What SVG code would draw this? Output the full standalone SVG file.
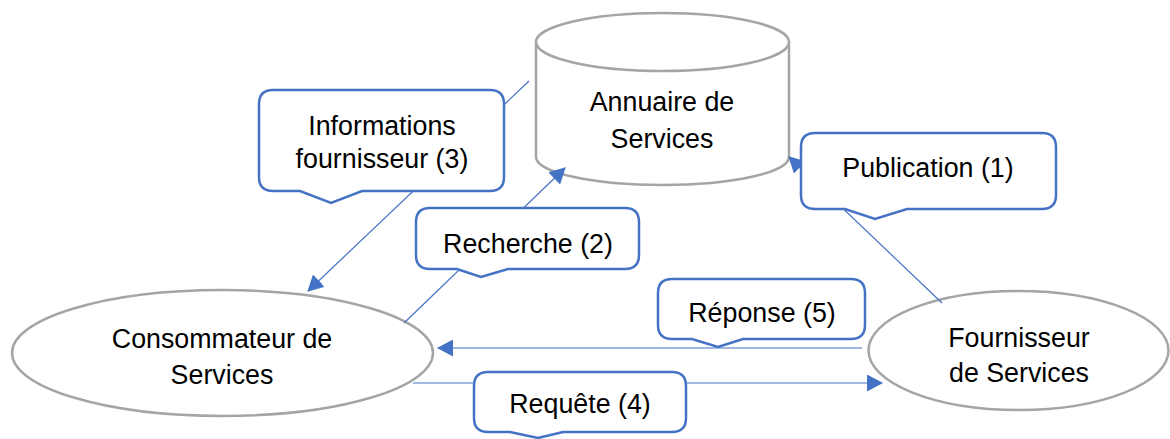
<svg xmlns="http://www.w3.org/2000/svg" width="1170" height="439" viewBox="0 0 1170 439">
<style>
.shape{fill:#fff;stroke:#a5a5a5;stroke-width:2.5}
.callout{fill:#fff;stroke:#4472c4;stroke-width:2.5;stroke-linejoin:miter}
.conn{stroke:#4472c4;stroke-width:1.2;fill:none}
text{font-family:"Liberation Sans",Arial,sans-serif;font-size:26.8px;fill:#000;text-anchor:middle}
</style>
<defs>
<marker id="arr" viewBox="0 0 16 17" refX="15" refY="8.5" markerWidth="16" markerHeight="17" markerUnits="userSpaceOnUse" orient="auto">
<path d="M0,0 L16,8.5 L0,17 Z" fill="#4472c4"/>
</marker>
</defs>
<rect width="1170" height="439" fill="#fff"/>
<g id="annuaire">
<path class="shape" d="M536,42 V157 A126.5,28 0 0 0 789,157 V42"/>
<ellipse class="shape" cx="662.5" cy="42" rx="126.5" ry="29"/>
<text x="662" y="111">Annuaire de</text>
<text x="662" y="148">Services</text>
</g>
<g id="consommateur">
<ellipse class="shape" cx="222.5" cy="353" rx="210.5" ry="63"/>
<text x="222" y="348">Consommateur de</text>
<text x="222" y="384">Services</text>
</g>
<g id="fournisseur">
<ellipse class="shape" cx="1018.5" cy="350.5" rx="150" ry="59.5"/>
<text x="1019" y="347">Fournisseur</text>
<text x="1019" y="382">de Services</text>
</g>
<g id="connectors">
<line class="conn" x1="529" y1="81" x2="308" y2="291" marker-end="url(#arr)"/>
<line class="conn" x1="404" y1="323" x2="565" y2="168" marker-end="url(#arr)"/>
<line class="conn" x1="942" y1="303" x2="789" y2="157" marker-end="url(#arr)"/>
<line class="conn" x1="862" y1="348" x2="438" y2="348" marker-end="url(#arr)"/>
<line class="conn" x1="413" y1="383" x2="882" y2="383" marker-end="url(#arr)"/>
</g>
<g id="label-informations">
<path class="callout" d="M273,90 H490 Q504,90 504,104 V177 Q504,191 490,191 H362 L331,203 L300,191 H273 Q259,191 259,177 V104 Q259,90 273,90 Z"/>
<text x="382" y="135">Informations</text>
<text x="382" y="168">fournisseur (3)</text>
</g>
<g id="label-recherche">
<path class="callout" d="M430,208 H625 Q639,208 639,222 V255 Q639,269 625,269 H508 L481,277 L457,269 H430 Q416,269 416,255 V222 Q416,208 430,208 Z"/>
<text x="528" y="253">Recherche (2)</text>
</g>
<g id="label-publication">
<path class="callout" d="M815,133 H1042 Q1056,133 1056,147 V195 Q1056,209 1042,209 H907 L875,219 L845,209 H815 Q801,209 801,195 V147 Q801,133 815,133 Z"/>
<text x="928" y="177">Publication (1)</text>
</g>
<g id="label-reponse">
<path class="callout" d="M672,279 H851 Q865,279 865,293 V325 Q865,339 851,339 H743 L718,347 L692,339 H672 Q658,339 658,325 V293 Q658,279 672,279 Z"/>
<text x="762" y="322">Réponse (5)</text>
</g>
<g id="label-requete">
<path class="callout" d="M488,372 H672 Q686,372 686,386 V418 Q686,432 672,432 H563 L538,438 L510,432 H488 Q474,432 474,418 V386 Q474,372 488,372 Z"/>
<text x="580" y="413">Requête (4)</text>
</g>
</svg>
